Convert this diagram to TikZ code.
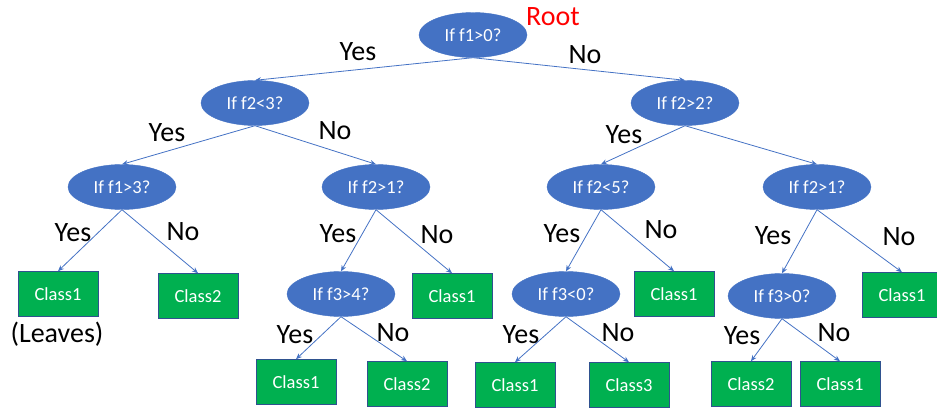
\documentclass[tikz,border=0pt]{standalone}
\usepackage{fontspec}
\setmainfont{Carlito}
\usetikzlibrary{shapes.geometric,arrows.meta}
\definecolor{qblue}{HTML}{4472C4}
\definecolor{leafgreen}{HTML}{00B050}
\definecolor{leafedge}{HTML}{2F528F}
\tikzset{
  test/.style={ellipse, fill=qblue, draw=qblue, minimum width=108pt, minimum height=45pt,
    inner sep=0pt, text=white, font=\fontsize{18.5}{20}\selectfont},
  leaf/.style={rectangle, fill=leafgreen, draw=leafedge, line width=0.6pt, minimum width=80pt,
    minimum height=45pt, inner sep=0pt, text=white, font=\fontsize{18.5}{20}\selectfont},
  branch/.style={draw=qblue, line width=0.8pt, -{Stealth[length=6pt,width=5pt]}},
  ans/.style={font=\fontsize{28}{30}\selectfont, text=black, inner sep=0pt},
}
\begin{document}
\begin{tikzpicture}[x=1pt,y=-1pt]
\useasboundingbox (0,0) rectangle (937,409);
% decision nodes
\node[test] (r)   at (473,35)  {If f1>0?};
\node[test] (a)   at (255,103) {If f2<3?};
\node[test] (b)   at (685,103) {If f2>2?};
\node[test] (aa)  at (122,187) {If f1>3?};
\node[test] (ab)  at (376,187) {If f2>1?};
\node[test] (ba)  at (601,187) {If f2<5?};
\node[test] (bb)  at (817,187) {If f2>1?};
\node[test] (aba) at (341,294) {If f3>4?};
\node[test] (baa) at (566,294) {If f3<0?};
\node[test] (bba) at (782,296) {If f3>0?};
% leaves
\node[leaf] (l1)  at (58,294)  {Class1};
\node[leaf] (l2)  at (198,296) {Class2};
\node[leaf] (l3)  at (452,296) {Class1};
\node[leaf] (l4)  at (674,294) {Class1};
\node[leaf] (l5)  at (902,295) {Class1};
\node[leaf] (l6)  at (296,382) {Class1};
\node[leaf] (l7)  at (407,384) {Class2};
\node[leaf] (l8)  at (515,385) {Class1};
\node[leaf] (l9)  at (629,385) {Class3};
\node[leaf] (l10) at (751,384) {Class2};
\node[leaf] (l11) at (840,384) {Class1};
% branches
\foreach \p/\c in {r/a, r/b, a/aa, a/ab, b/ba, b/bb, aa/l1, aa/l2, ab/aba, ab/l3,
                   ba/baa, ba/l4, bb/bba, bb/l5, aba/l6, aba/l7, baa/l8, baa/l9, bba/l10, bba/l11}
  \draw[branch] (\p.south) -- (\c.north);
% branch answers
\node[ans] (y0) at (358,52)  {Yes};
\node[ans] (n0) at (585,55)  {No};
\node[ans] (y1) at (167,133) {Yes};
\node[ans] (n1) at (335,131) {No};
\node[ans] (y2) at (624,135) {Yes};
\node[ans] (y3) at (73,233)  {Yes};
\node[ans] (n3) at (183,232) {No};
\node[ans] (y4) at (338,234) {Yes};
\node[ans] (n4) at (437,235) {No};
\node[ans] (y5) at (562,234) {Yes};
\node[ans] (n5) at (661,230) {No};
\node[ans] (y6) at (773,236) {Yes};
\node[ans] (n6) at (899,237) {No};
\node[ans] (y7) at (295,335) {Yes};
\node[ans] (n7) at (393,333) {No};
\node[ans] (y8) at (521,335) {Yes};
\node[ans] (n8) at (618,333) {No};
\node[ans] (y9) at (742,336) {Yes};
\node[ans] (n9) at (834,333) {No};
% annotations
\node[ans, text=red] (rootlbl) at (553,17) {Root};
\node[ans] (leaveslbl) at (57,334) {(Leaves)};
\end{tikzpicture}
\end{document}
